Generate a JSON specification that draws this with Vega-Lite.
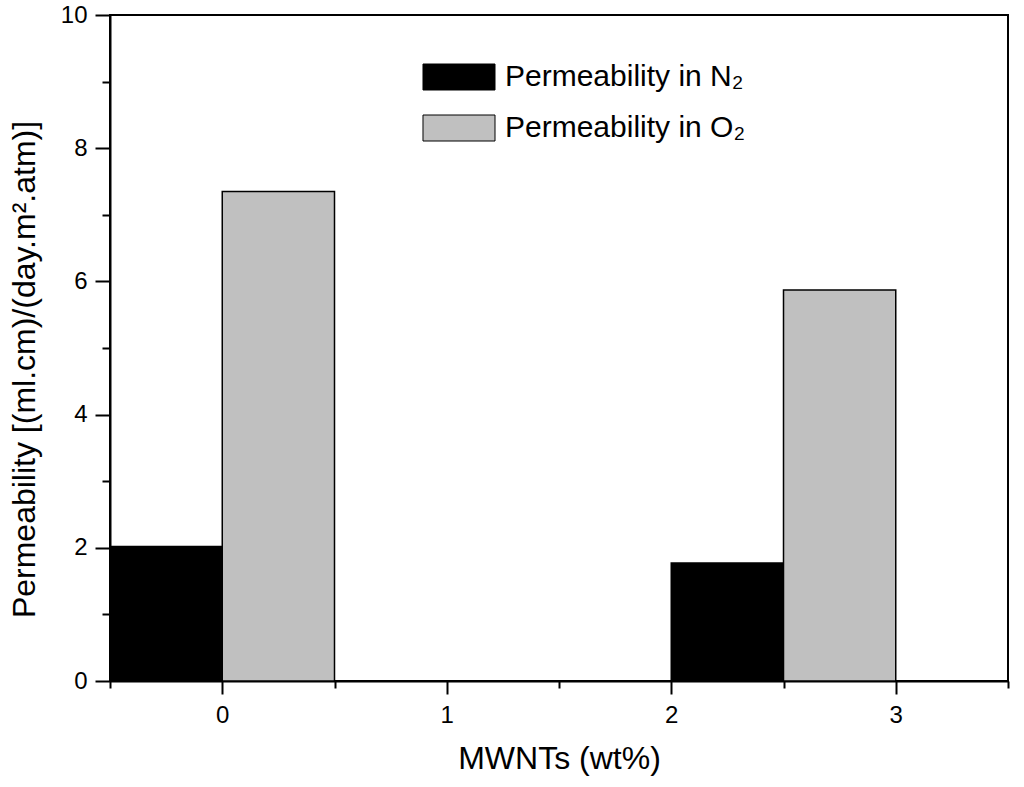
{
  "$schema": "https://vega.github.io/schema/vega-lite/v6.json",
  "description": "Permeability of films in N2 and O2 against MWNT content.",
  "background": "white",
  "autosize": "none",
  "padding": {"left": 110, "top": 15, "right": 16, "bottom": 106},
  "width": 898,
  "height": 666,
  "data": {
    "values": [
      {"MWNTs": 0, "start": -0.5, "end": 0, "Gas": "Permeability in N₂", "Permeability": 2.02},
      {"MWNTs": 0, "start": 0, "end": 0.5, "Gas": "Permeability in O₂", "Permeability": 7.35},
      {"MWNTs": 3, "start": 2, "end": 2.5, "Gas": "Permeability in N₂", "Permeability": 1.77},
      {"MWNTs": 3, "start": 2.5, "end": 3, "Gas": "Permeability in O₂", "Permeability": 5.87}
    ]
  },
  "layer": [
    {
      "mark": {"type": "bar", "stroke": "black", "strokeWidth": 1.5, "opacity": 1},
      "encoding": {
        "x": {
          "field": "start",
          "type": "quantitative",
          "scale": {"domain": [-0.5, 3.5], "nice": false, "zero": false},
          "axis": {
            "orient": "bottom",
            "values": [0, 1, 2, 3],
            "format": "d",
            "tickSize": 13,
            "labelPadding": 9,
            "title": "MWNTs (wt%)",
            "titlePadding": 16
          }
        },
        "x2": {"field": "end"},
        "y": {
          "field": "Permeability",
          "type": "quantitative",
          "scale": {"domain": [0, 10], "nice": false},
          "axis": {
            "orient": "left",
            "values": [0, 2, 4, 6, 8, 10],
            "tickSize": 15,
            "labelPadding": 8,
            "title": "Permeability [(ml.cm)/(day.m².atm)]",
            "titlePadding": 19,
            "titleY": 354
          }
        },
        "y2": {"datum": 0},
        "color": {
          "field": "Gas",
          "type": "nominal",
          "scale": {
            "domain": ["Permeability in N₂", "Permeability in O₂"],
            "range": ["#000000", "#c0c0c0"]
          },
          "legend": {
            "title": null,
            "orient": "none",
            "legendX": 334,
            "legendY": 47,
            "padding": 0,
            "symbolType": "M-2.77,-1H2.77V1H-2.77Z",
            "symbolSize": 676,
            "symbolStrokeColor": "black",
            "symbolStrokeWidth": 1,
            "symbolOpacity": 1,
            "labelFontSize": 30,
            "labelOffset": 31,
            "labelLimit": 0,
            "rowPadding": 21,
            "labelColor": "black",
            "labelFont": "Liberation Sans"
          }
        }
      }
    },
    {
      "mark": {"type": "point", "opacity": 0},
      "encoding": {
        "x": {
          "field": "start",
          "type": "quantitative",
          "axis": {
            "orient": "bottom",
            "values": [-0.5, 0.5, 1.5, 2.5, 3.5],
            "tickSize": 7,
            "labels": false,
            "domain": false,
            "title": null
          }
        },
        "y": {
          "field": "Permeability",
          "type": "quantitative",
          "axis": {
            "orient": "left",
            "values": [1, 3, 5, 7, 9],
            "tickSize": 8,
            "labels": false,
            "domain": false,
            "title": null
          }
        }
      }
    }
  ],
  "resolve": {"axis": {"x": "independent", "y": "independent"}},
  "config": {
    "view": {"stroke": "black", "strokeWidth": 2},
    "axis": {
      "grid": false,
      "domainColor": "black",
      "domainWidth": 2,
      "tickColor": "black",
      "tickWidth": 2,
      "labelColor": "black",
      "labelFont": "Liberation Sans",
      "labelFontSize": 24,
      "titleColor": "black",
      "titleFont": "Liberation Sans",
      "titleFontSize": 32,
      "titleFontWeight": "normal"
    }
  }
}
